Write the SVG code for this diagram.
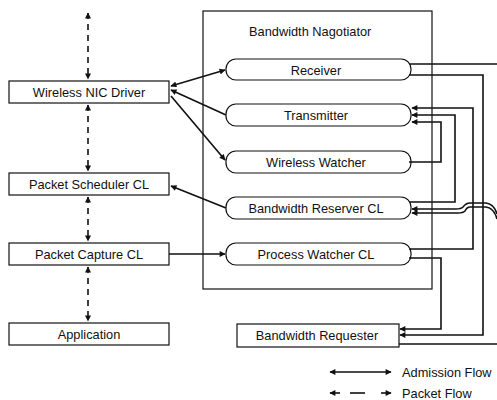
<svg xmlns="http://www.w3.org/2000/svg" width="497" height="400" viewBox="0 0 497 400">
<defs>
<marker id="ah" viewBox="0 0 10 10" refX="9" refY="5" markerWidth="7" markerHeight="6" orient="auto-start-reverse" markerUnits="userSpaceOnUse">
<path d="M0,0 L10,5 L0,10 z" fill="#111"/>
</marker>
</defs>
<style>
.box{fill:#fff;stroke:#111;stroke-width:1.2}
.pill{fill:#fff;stroke:#111;stroke-width:1.2}
.t{font-family:"Liberation Sans",Arial,sans-serif;font-size:12.8px;fill:#111;text-anchor:middle;dominant-baseline:central}
.tl{font-family:"Liberation Sans",Arial,sans-serif;font-size:12.8px;fill:#111;dominant-baseline:central}
.c{fill:none;stroke:#111;stroke-width:1.6}
.d{fill:none;stroke:#111;stroke-width:1.6;stroke-dasharray:6,5}
</style>
<rect width="497" height="400" fill="#fff"/>
<g id="negotiator">
<rect class="box" x="203" y="11" width="229" height="278"/>
<text class="tl" x="249" y="31">Bandwidth Nagotiator</text>
</g>
<g id="receiver"><rect class="pill" x="226" y="59" width="185" height="21" rx="10"/><text class="t" x="316" y="70">Receiver</text></g>
<g id="transmitter"><rect class="pill" x="226" y="104" width="185" height="22" rx="10"/><text class="t" x="316" y="115">Transmitter</text></g>
<g id="watcher"><rect class="pill" x="226" y="151" width="185" height="22" rx="10"/><text class="t" x="316" y="162">Wireless Watcher</text></g>
<g id="reserver"><rect class="pill" x="226" y="197" width="185" height="22" rx="10"/><text class="t" x="316" y="208">Bandwidth Reserver CL</text></g>
<g id="pwatcher"><rect class="pill" x="226" y="243" width="185" height="22" rx="10"/><text class="t" x="316" y="254">Process Watcher CL</text></g>
<g id="nic"><rect class="box" x="9" y="81" width="160" height="22"/><text class="t" x="89" y="92">Wireless NIC Driver</text></g>
<g id="scheduler"><rect class="box" x="9" y="173" width="160" height="22"/><text class="t" x="89" y="184">Packet Scheduler CL</text></g>
<g id="capture"><rect class="box" x="9" y="243" width="160" height="22"/><text class="t" x="89" y="254">Packet Capture CL</text></g>
<g id="application"><rect class="box" x="9" y="323" width="160" height="22"/><text class="t" x="89" y="334">Application</text></g>
<g id="requester"><rect class="box" x="237" y="324" width="162" height="23"/><text class="t" x="317" y="335.5">Bandwidth Requester</text></g>
<g id="connectors">
<line class="d" x1="88" y1="13" x2="88" y2="79" marker-start="url(#ah)" marker-end="url(#ah)"/>
<line class="d" x1="88" y1="105" x2="88" y2="171" marker-start="url(#ah)" marker-end="url(#ah)"/>
<line class="d" x1="88" y1="197" x2="88" y2="241" marker-start="url(#ah)" marker-end="url(#ah)"/>
<line class="d" x1="88" y1="267" x2="88" y2="321" marker-start="url(#ah)" marker-end="url(#ah)"/>
<line class="c" x1="171" y1="86" x2="225" y2="70" marker-start="url(#ah)" marker-end="url(#ah)"/>
<line class="c" x1="226" y1="115" x2="171" y2="90" marker-end="url(#ah)"/>
<line class="c" x1="171" y1="96" x2="225" y2="160" marker-end="url(#ah)"/>
<line class="c" x1="226" y1="208" x2="171" y2="186" marker-end="url(#ah)"/>
<line class="c" x1="169" y1="254" x2="225" y2="254" marker-end="url(#ah)"/>
<polyline class="c" points="409,64 497,64"/>
<polyline class="c" points="409,75 483,75 483,335 400,335" marker-end="url(#ah)"/>
<polyline class="c" points="409,162 441,162 441,122 412,122" marker-end="url(#ah)"/>
<polyline class="c" points="409,202 455,202 455,115 412,115" marker-end="url(#ah)"/>
<polyline class="c" points="409,249 473,249 473,108 412,108" marker-end="url(#ah)"/>
<polyline class="c" points="409,258 441,258 441,329 400,329" marker-end="url(#ah)"/>
<polyline class="c" points="399,344 497,344"/>
<path class="c" d="M497,214 Q494,204 486,203 L470,203 Q466,203 463,207 Q461,209 456,209 L412,209" marker-end="url(#ah)"/>
<path class="c" d="M497,219 Q494,208 486,207 L470,207 Q467,207 465,211 Q463,213 458,213 L412,213" marker-end="url(#ah)"/>
</g>
<g id="legend">
<line class="c" x1="330" y1="372" x2="391" y2="372" marker-start="url(#ah)" marker-end="url(#ah)"/>
<text class="tl" x="402" y="372">Admission Flow</text>
<line class="c" x1="330" y1="393" x2="340" y2="393" marker-start="url(#ah)"/>
<line class="c" x1="350" y1="393" x2="365" y2="393"/>
<line class="c" x1="381" y1="393" x2="391" y2="393" marker-end="url(#ah)"/>
<text class="tl" x="402" y="393">Packet Flow</text>
</g>
</svg>
